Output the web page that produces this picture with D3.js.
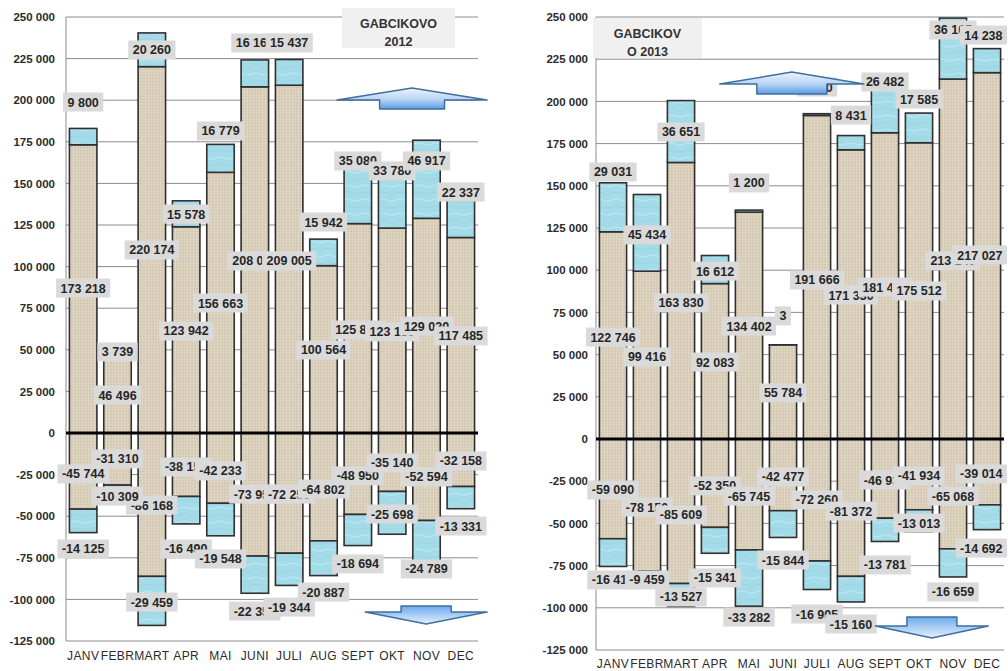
<!DOCTYPE html>
<html>
<head>
<meta charset="utf-8">
<script src="https://cdnjs.cloudflare.com/ajax/libs/d3/7.8.5/d3.min.js"></script>
<style>
  body { margin: 0; background: #fff; }
  svg { display: block; font-family: "Liberation Sans", Arial, sans-serif; }
</style>
</head>
<body>
<svg id="chart" width="1008" height="671"></svg>
<script>
// Months and value-axis ticks
const months = ["JANV", "FEBR", "MART", "APR", "MAI", "JUNI", "JULI", "AUG", "SEPT", "OKT", "NOV", "DEC"];
const yTicks = [250000, 225000, 200000, 175000, 150000, 125000, 100000, 75000, 50000, 25000, 0,
                -25000, -50000, -75000, -100000, -125000];

// 2012 – positive stack (base + extra) and negative stack (base + extra)
const baseUp2012    = [173218, 46496, 220174, 123942, 156663, 208040, 209005, 100564, 125840, 123150, 129020, 117485];
const extraUp2012   = [9800, 3739, 20260, 15578, 16779, 16160, 15437, 15942, 35080, 33780, 46917, 22337];
const baseDown2012  = [-45744, -31310, -86168, -38150, -42233, -73950, -72250, -64802, -48950, -35140, -52594, -32158];
const extraDown2012 = [-14125, -10309, -29459, -16490, -19548, -22350, -19344, -20887, -18694, -25698, -24789, -13331];

// 2013
const baseUp2013    = [122746, 99416, 163830, 92083, 134402, 55784, 191666, 171330, 181430, 175512, 213240, 217027];
const extraUp2013   = [29031, 45434, 36651, 16612, 1200, 3, 1040, 8431, 26482, 17585, 36105, 14238];
const baseDown2013  = [-59090, -78150, -85609, -52350, -65745, -42477, -72260, -81372, -46930, -41934, -65068, -39014];
const extraDown2013 = [-16410, -9459, -13527, -15341, -33282, -15844, -16905, -15160, -13781, -13013, -16659, -14692];

// Where each data label sits, on the value axis (labels were moved by hand)
const lblBaseUp2012    = [87100, 22800, 110000, 61300, 78100, 103400, 103400, 49900, 61900, 60700, 64300, 58300];
const lblExtraUp2012   = [198900, 48700, 230200, 131600, 181500, 234400, 234400, 126800, 163500, 157500, 163500, 144800];
const lblBaseDown2012  = [-24600, -15600, -43300, -20400, -22800, -36700, -36700, -33700, -25800, -18000, -26400, -16800];
const lblExtraDown2012 = [-69700, -37900, -101600, -69700, -75700, -107000, -104600, -95600, -78700, -48700, -81700, -55900];

const lblBaseUp2013    = [60400, 48600, 80600, 45600, 66900, 27300, 94200, 85300, 90000, 87700, 105500, 109000];
const lblExtraUp2013   = [158200, 120900, 181900, 99500, 151700, 72900, 208500, 191900, 211500, 201400, 242300, 239300];
const lblBaseDown2013  = [-30200, -40300, -45000, -27800, -33800, -22500, -36100, -42700, -24300, -21900, -33800, -20700];
const lblExtraDown2013 = [-83500, -83500, -93600, -82300, -105500, -71700, -103700, -109600, -74600, -49800, -90600, -64600];

// Decorative block arrows (position in category steps and axis values)
const arrows2012 = [
  { at: 10.08, head: 4.37, stem: 1.89, tip: 207300, base: 200100, end: 194700, dir: "up" },
  { at: 10.49, head: 3.55, stem: 1.46, tip: -114800, base: -107600, end: -104000, dir: "down" }
];
const arrows2013 = [
  { at: 5.76, head: 4.24, stem: 2.06, tip: 217400, base: 210300, end: 204400, dir: "up" },
  { at: 9.88, head: 3.32, stem: 1.47, tip: -117900, base: -110800, end: -105500, dir: "down" }
];

const fmt = d3.formatLocale({ decimal: ",", thousands: " ", grouping: [3], currency: ["", ""], minus: "-" }).format(",d");

const svg = d3.select("#chart");
svg.append("rect").attr("width", 1008).attr("height", 671).attr("fill", "#fff");

// Fabric-like texture for the base segments, water texture for the extra segments
const defs = svg.append("defs");
const burlap = defs.append("pattern").attr("id", "burlap").attr("patternUnits", "userSpaceOnUse")
  .attr("width", 6).attr("height", 6);
burlap.append("rect").attr("width", 6).attr("height", 6).attr("fill", "#dacfbb");
burlap.append("path").attr("d", "M0 0.5H6M0 3.5H6").attr("stroke", "#d0c3ac").attr("stroke-width", 0.8);
burlap.append("path").attr("d", "M1.5 0V6M4.5 0V6").attr("stroke", "#e2d8c7").attr("stroke-width", 0.8);

const water = defs.append("pattern").attr("id", "water").attr("patternUnits", "userSpaceOnUse")
  .attr("width", 18).attr("height", 14);
water.append("rect").attr("width", 18).attr("height", 14).attr("fill", "#a4dbe8");
water.append("path").attr("d", "M0 4 Q4.5 2 9 4 T18 4").attr("stroke", "#bde8f2").attr("fill", "none").attr("stroke-width", 1.2);
water.append("path").attr("d", "M0 11 Q4.5 9 9 11 T18 11").attr("stroke", "#98d3e2").attr("fill", "none").attr("stroke-width", 0.8);

const gUp = defs.append("linearGradient").attr("id", "arrowUp").attr("x1", 0).attr("y1", 0).attr("x2", 0).attr("y2", 1);
gUp.append("stop").attr("offset", 0).attr("stop-color", "#eef4fd");
gUp.append("stop").attr("offset", 0.55).attr("stop-color", "#b7d4f6");
gUp.append("stop").attr("offset", 1).attr("stop-color", "#5e9be6");
const gDown = defs.append("linearGradient").attr("id", "arrowDown").attr("x1", 0).attr("y1", 0).attr("x2", 0).attr("y2", 1);
gDown.append("stop").attr("offset", 0).attr("stop-color", "#6fa8ec");
gDown.append("stop").attr("offset", 0.5).attr("stop-color", "#a9cdf5");
gDown.append("stop").attr("offset", 1).attr("stop-color", "#e6f0fc");

const charts = [
  {
    title: ["GABCIKOVO", "2012"], box: { x: 342, y: 8, w: 113, h: 40 },
    left: 66, right: 478, top: 17, bottom: 641, tickPad: 11, xPad: 10,
    series: [[baseUp2012, extraUp2012], [baseDown2012, extraDown2012]],
    labels: [[baseUp2012, lblBaseUp2012], [extraUp2012, lblExtraUp2012],
             [baseDown2012, lblBaseDown2012], [extraDown2012, lblExtraDown2012]],
    arrows: arrows2012
  },
  {
    title: ["GABCIKOV", "O 2013"], box: { x: 593, y: 18, w: 109, h: 40 },
    left: 596, right: 1004, top: 17, bottom: 650, tickPad: 8, xPad: 9,
    series: [[baseUp2013, extraUp2013], [baseDown2013, extraDown2013]],
    labels: [[baseUp2013, lblBaseUp2013], [extraUp2013, lblExtraUp2013],
             [baseDown2013, lblBaseDown2013], [extraDown2013, lblExtraDown2013]],
    arrows: arrows2013
  }
];

function drawChart(c) {
  const g = svg.append("g");
  const x = d3.scaleBand().domain(months).range([c.left, c.right]).paddingInner(0.2).paddingOuter(0.1);
  const y = d3.scaleLinear().domain([-125000, 250000]).range([c.bottom, c.top]);

  // gridlines
  g.append("g").selectAll("line").data(yTicks).join("line")
    .attr("x1", c.left).attr("x2", c.right)
    .attr("y1", d => y(d)).attr("y2", d => y(d))
    .attr("stroke", "#8c8c8c").attr("stroke-width", 1);
  g.append("line").attr("x1", c.left).attr("x2", c.left).attr("y1", c.top).attr("y2", c.bottom)
    .attr("stroke", "#8c8c8c").attr("stroke-width", 1);

  // value axis labels
  const ya = g.append("g").attr("transform", `translate(${c.left},0)`)
    .call(d3.axisLeft(y).tickValues(yTicks).tickFormat(fmt).tickSize(0).tickPadding(c.tickPad));
  ya.select(".domain").remove();
  ya.selectAll("text").attr("font-size", 11.5).attr("font-weight", "bold").attr("fill", "#2b2b2b")
    .attr("font-family", "Liberation Sans, Arial, sans-serif");

  // month labels
  const xa = g.append("g").attr("transform", `translate(0,${c.bottom})`)
    .call(d3.axisBottom(x).tickSize(0).tickPadding(c.xPad));
  xa.select(".domain").remove();
  xa.selectAll("text").attr("font-size", 12).attr("fill", "#2b2b2b").attr("letter-spacing", 0.4)
    .attr("font-family", "Liberation Sans, Arial, sans-serif");

  // stacked bars: base segment from zero, extra segment on its end
  const segs = [];
  c.series.forEach(([base, extra]) => {
    months.forEach((m, i) => {
      segs.push({ m, a: 0, b: base[i], fill: "url(#burlap)" });
      segs.push({ m, a: base[i], b: base[i] + extra[i], fill: "url(#water)" });
    });
  });
  g.append("g").selectAll("rect").data(segs).join("rect")
    .attr("x", d => x(d.m))
    .attr("width", x.bandwidth())
    .attr("y", d => y(Math.max(d.a, d.b)))
    .attr("height", d => Math.abs(y(d.a) - y(d.b)))
    .attr("fill", d => d.fill)
    .attr("stroke", "#303030").attr("stroke-width", 1.6);

  // zero line
  g.append("line").attr("x1", c.left).attr("x2", c.right).attr("y1", y(0)).attr("y2", y(0))
    .attr("stroke", "#000").attr("stroke-width", 3);

  // data labels, one series after another (later ones sit on top)
  c.labels.forEach(([vals, at]) => {
    months.forEach((m, i) => {
      const lg = g.append("g");
      let cx = x(m) + x.bandwidth() / 2;
      const cy = y(at[i]);
      const r = lg.append("rect").attr("fill", "#dadada");
      const t = lg.append("text").attr("y", cy + 4.5)
        .attr("text-anchor", "middle").attr("font-size", 12.5).attr("font-weight", "bold")
        .attr("fill", "#262626").text(fmt(vals[i]));
      const w = t.node().getComputedTextLength() + 9;
      cx = Math.min(cx, 1007 - w / 2);
      t.attr("x", cx);
      r.attr("x", cx - w / 2).attr("y", cy - 9.5).attr("width", w).attr("height", 19);
    });
  });

  // block arrows
  c.arrows.forEach(a => {
    const step = x.step();
    const cx = c.left + a.at * step;
    const hw = a.head * step / 2, sw = a.stem * step / 2;
    const tip = y(a.tip), base = y(a.base), end = y(a.end);
    const p = d3.path();
    p.moveTo(cx - hw, base); p.lineTo(cx, tip); p.lineTo(cx + hw, base);
    p.lineTo(cx + sw, base); p.lineTo(cx + sw, end); p.lineTo(cx - sw, end);
    p.lineTo(cx - sw, base); p.closePath();
    g.append("path").attr("d", p.toString())
      .attr("fill", a.dir === "up" ? "url(#arrowUp)" : "url(#arrowDown)")
      .attr("stroke", "#3f6f9f").attr("stroke-width", 1.5).attr("stroke-linejoin", "round");
  });

  // title box
  const tb = c.box;
  g.append("rect").attr("x", tb.x).attr("y", tb.y).attr("width", tb.w).attr("height", tb.h).attr("fill", "#f0f0f0");
  g.append("text").attr("text-anchor", "middle").attr("font-size", 12.5).attr("font-weight", "bold").attr("fill", "#333")
    .selectAll("tspan").data(c.title).join("tspan")
    .attr("x", tb.x + tb.w / 2).attr("y", (d, i) => tb.y + 20 + i * 18).text(d => d);
}

charts.forEach(drawChart);
</script>
</body>
</html>
